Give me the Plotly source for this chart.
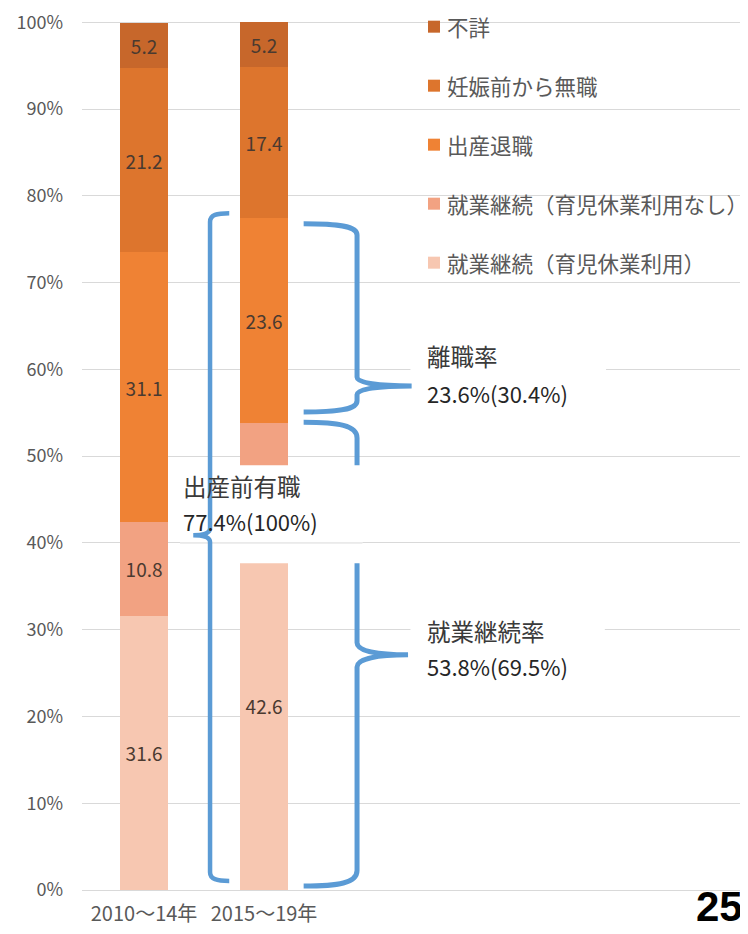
import plotly.graph_objects as go

# ── Data ──────────────────────────────────────────────────────────────────────

periods = ["2010〜14年", "2015〜19年"]
period_x = [0, 1]

# stacked from the bottom up
series_names = [
    "就業継続（育児休業利用）",
    "就業継続（育児休業利用なし）",
    "出産退職",
    "妊娠前から無職",
    "不詳",
]
keizoku_riyou = [31.6, 42.6]
keizoku_nashi = [10.8, 11.2]
shussan_taishoku = [31.1, 23.6]
mushoku = [21.2, 17.4]
fusho = [5.2, 5.2]
series_values = [keizoku_riyou, keizoku_nashi, shussan_taishoku, mushoku, fusho]

# the 2015-19 "なし" label sits under the 出産前有職 box in the original
hidden_labels = {(1, 1)}

COLORS = ["#F7C7B1", "#F2A282", "#EF8234", "#DD752D", "#C7672B"]
BLUE = "#5B9BD5"
GRID = "#D9D9D9"
GRAY = "#595959"
FONT = "Noto Sans CJK JP"


def brace_path(x, y_top, y_bot, y_tip, x_tip, x_end, r=1.8, k=1.4):
    """Curly brace: vertical at x, hooks bending toward x_end, cusp out to x_tip."""
    hx = x_end - x
    tx = x_tip - x
    return " ".join([
        f"M{x_end},{y_top}",
        f"C{x + hx * 0.35},{y_top} {x},{y_top - r * 0.2} {x},{y_top - r}",
        f"L{x},{y_tip + k}",
        f"C{x},{y_tip + k * 0.3} {x + tx * 0.4},{y_tip} {x_tip},{y_tip}",
        f"C{x + tx * 0.4},{y_tip} {x},{y_tip - k * 0.3} {x},{y_tip - k}",
        f"L{x},{y_bot + r}",
        f"C{x},{y_bot + r * 0.2} {x + hx * 0.35},{y_bot} {x_end},{y_bot}",
    ])


fig = go.Figure()

for s, (name, vals, col) in enumerate(zip(series_names, series_values, COLORS)):
    labels = ["" if (s, i) in hidden_labels else f"{v:.1f}" for i, v in enumerate(vals)]
    fig.add_trace(go.Bar(
        x=period_x, y=vals, name=name,
        marker=dict(color=col, line=dict(width=0)),
        width=0.4,
        text=labels,
        textposition="inside",
        insidetextanchor="middle",
        constraintext="none",
        textfont=dict(size=19, color="#4A3A30", family=FONT),
        showlegend=False,
    ))

line_style = dict(color=BLUE, width=5)
shapes = [
    # lower right brace (partly hidden by the label box)
    dict(type="path", layer="above", line=line_style,
         path=brace_path(1.775, 53.9, 0.45, 27.1, 2.2, 1.33, r=1.8, k=1.4)),
    # white box behind 出産前有職
    dict(type="rect", layer="above", x0=0.3, x1=1.82, y0=37.67, y1=48.96,
         fillcolor="white", line=dict(width=0)),
    dict(type="line", layer="above", x0=0.3, x1=1.82, y0=40, y1=40,
         line=dict(color=GRID, width=1)),
    # white boxes behind the right labels
    dict(type="rect", layer="above", x0=2.22, x1=3.85, y0=55, y1=64,
         fillcolor="white", line=dict(width=0)),
    dict(type="rect", layer="above", x0=2.22, x1=3.84, y0=25, y1=35,
         fillcolor="white", line=dict(width=0)),
    # upper right brace
    dict(type="path", layer="above", line=line_style,
         path=brace_path(1.775, 76.8, 55.1, 58.1, 2.23, 1.33, r=1.3, k=1.0)),
    # left brace
    dict(type="path", layer="above", line=dict(color=BLUE, width=4.5),
         path=brace_path(0.55, 78.0, 1.05, 40.9, 0.41, 0.71, r=1.0, k=0.8)),
]

# legend, drawn by hand to get the spacing of the original
legend_y = [99.5 - i * 6.8 for i in range(5)]
annotations = []
for i, (name, col) in enumerate(zip(reversed(series_names), reversed(COLORS))):
    shapes.append(dict(type="rect", layer="above", xref="paper", yref="y",
                       xsizemode="pixel", ysizemode="pixel",
                       xanchor=0.5285, yanchor=legend_y[i],
                       x0=-6, x1=6, y0=-6, y1=6,
                       fillcolor=col, line=dict(width=0)))
    annotations.append(dict(xref="paper", yref="y", x=0.545, y=legend_y[i],
                            xanchor="left", yanchor="middle", showarrow=False,
                            text=name, font=dict(size=21.5, color=GRAY, family=FONT)))

# bracket labels
head_font = dict(size=23.5, color="#3A3A3A", family=FONT)
num_font = dict(size=22, color="#262626", family=FONT)
for x, y, txt, f in [
    (0.31, 46.6, "出産前有職", head_font), (0.31, 42.5, "77.4%(100%)", num_font),
    (2.345, 61.5, "離職率", head_font), (2.345, 57.3, "23.6%(30.4%)", num_font),
    (2.345, 29.9, "就業継続率", head_font), (2.345, 25.8, "53.8%(69.5%)", num_font),
]:
    annotations.append(dict(x=x, y=y, xanchor="left", yanchor="middle",
                            showarrow=False, text=txt, font=f))

# page number
annotations.append(dict(xref="paper", yref="paper", x=0.995, y=-0.0485,
                        xanchor="right", yanchor="bottom", showarrow=False,
                        text="<b>25</b>",
                        font=dict(size=42, color="black", family="Liberation Sans, Arial")))

fig.update_layout(
    barmode="stack",
    width=740, height=926,
    margin=dict(l=74, r=0, t=10, b=44),
    paper_bgcolor="white",
    plot_bgcolor="white",
    font=dict(family=FONT, color=GRAY),
    showlegend=False,
    shapes=shapes,
    annotations=annotations,
    xaxis=dict(
        range=[-0.517, 5.033],
        tickvals=period_x, ticktext=periods,
        tickfont=dict(size=20, color=GRAY),
        showgrid=False, zeroline=False,
        showline=False, ticks="",
        ticklabelstandoff=10,
    ),
    yaxis=dict(
        range=[0, 100.5],
        tickmode="linear", tick0=0, dtick=10, ticksuffix="%",
        tickfont=dict(size=18, color=GRAY),
        ticklabeloverflow="allow",
        showgrid=True, gridcolor=GRID, gridwidth=1,
        zeroline=True, zerolinecolor=GRID, zerolinewidth=1,
        showline=False, ticks="",
        ticklabelstandoff=18,
    ),
)

fig.write_html("out.html")
